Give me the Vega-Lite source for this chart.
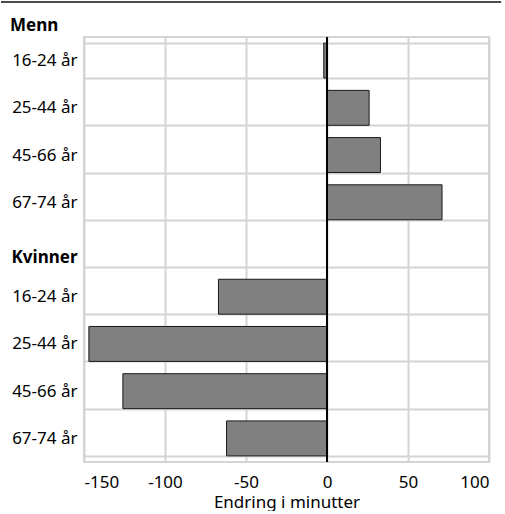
{
  "$schema": "https://vega.github.io/schema/vega-lite/v6.json",
  "padding": {"top": 1, "left": 0, "right": 5, "bottom": 0},
  "background": "white",
  "spacing": 13,
  "config": {
    "view": {"stroke": null},
    "font": "Noto Sans",
    "axis": {"labelFont": "Noto Sans", "titleFont": "Noto Sans", "labelColor": "#000", "titleColor": "#000"}
  },
  "datasets": {
    "rows": [
      {"kat": "16-24 år", "endring": -2},
      {"kat": "25-44 år", "endring": 26},
      {"kat": "45-66 år", "endring": 33},
      {"kat": "67-74 år", "endring": 71},
      {"kat": "16-24 år\u200b", "endring": -67},
      {"kat": "25-44 år\u200b", "endring": -147},
      {"kat": "45-66 år\u200b", "endring": -126},
      {"kat": "67-74 år\u200b", "endring": -62}
    ],
    "top": [{"a": 0}]
  },
  "vconcat": [
    {
      "width": 405,
      "height": 1,
      "data": {"name": "top"},
      "mark": {"type": "rule", "color": "#111", "strokeWidth": 1.5},
      "encoding": {
        "x": {"datum": -0.205, "type": "quantitative", "scale": {"domain": [0, 1]}, "axis": null},
        "x2": {"datum": 1.03},
        "y": {"datum": 0, "type": "quantitative", "scale": {"domain": [0, 1]}, "axis": null}
      }
    },
    {
      "width": 405,
      "height": 425,
      "view": {"stroke": "#d4d4d4", "strokeWidth": 2},
      "title": {"text": "Menn", "anchor": "start", "frame": "bounds", "dx": 9, "fontSize": 17, "fontWeight": "bold", "color": "#000", "offset": -7},
      "data": {"name": "rows"},
      "layer": [
        {
          "mark": {"type": "bar", "color": "#808080", "stroke": "#1a1a1a", "strokeWidth": 1},
          "encoding": {
            "y": {
              "field": "kat",
              "type": "nominal",
              "sort": null,
              "scale": {
                "domain": ["16-24 år", "25-44 år", "45-66 år", "67-74 år", "Kvinner", "16-24 år\u200b", "25-44 år\u200b", "45-66 år\u200b", "67-74 år\u200b"],
                "paddingInner": 0.26,
                "paddingOuter": 0.13
              },
              "axis": {
                "title": null,
                "labelFontSize": 17,
                "labelFontWeight": {"condition": {"test": "datum.value == 'Kvinner'", "value": "bold"}, "value": "normal"},
                "labelBaseline": {"condition": {"test": "datum.value == 'Kvinner'", "value": "top"}, "value": "middle"},
                "labelPadding": 7,
                "minExtent": 83,
                "ticks": false,
                "domain": false,
                "grid": true,
                "tickBand": "extent",
                "gridColor": "#d4d4d4",
                "gridWidth": 2,
                "gridOpacity": 1
              }
            },
            "x": {
              "field": "endring",
              "type": "quantitative",
              "scale": {"domain": [-150, 100], "nice": false},
              "axis": {
                "title": "Endring i minutter",
                "titleFontSize": 17,
                "titleFontWeight": "normal",
                "titlePadding": 4,
                "labelFontSize": 17,
                "labelPadding": 12,
                "values": [-150, -100, -50, 0, 50, 100],
                "labelExpr": "replace(datum.label, '−', '-')",
                "ticks": false,
                "domain": false,
                "grid": true,
                "gridColor": "#d4d4d4",
                "gridWidth": 2,
                "gridOpacity": 1
              }
            }
          }
        },
        {
          "mark": {"type": "rule", "color": "#000", "strokeWidth": 2},
          "encoding": {"x": {"datum": 0, "type": "quantitative"}}
        }
      ]
    }
  ]
}
